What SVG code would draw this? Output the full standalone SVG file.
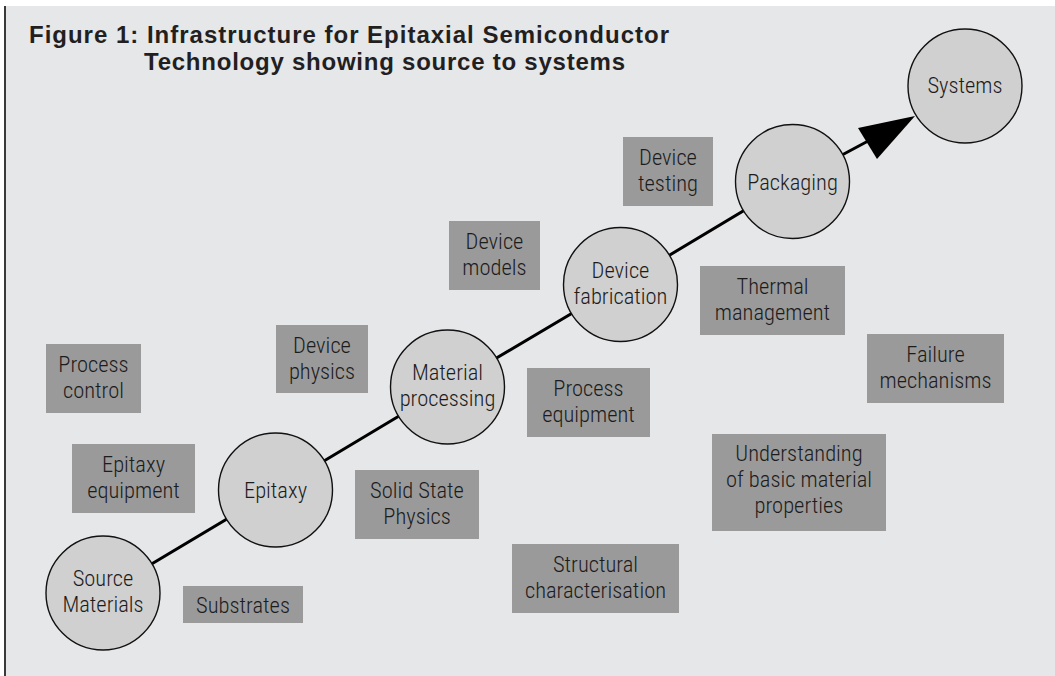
<svg xmlns="http://www.w3.org/2000/svg" width="1055" height="676" viewBox="0 0 1055 676">
<style>
.bg{fill:#e6e7e9}
.box{fill:#9a9a9a}
.node{fill:#d0d0d0;stroke:#111;stroke-width:1.4}
.t{font-family:"Liberation Sans Narrow","Arial Narrow","Roboto Condensed","DejaVu Sans Condensed","Liberation Sans",sans-serif;font-stretch:condensed;font-weight:300;font-size:22.5px;fill:#1c1c1c;text-anchor:middle}
.title{font-family:"Liberation Sans",Arial,sans-serif;font-weight:700;font-size:24px;fill:#231f20}
.conn{stroke:#000;stroke-width:3;fill:none}
</style>
<rect width="1055" height="676" fill="#ffffff"/>
<rect class="bg" x="5" y="6" width="1050" height="670"/>
<line x1="5" y1="6" x2="5" y2="676" stroke="#3a3a3a" stroke-width="2"/>
<g id="title">
<text class="title" x="29" y="43" textLength="640">Figure 1: Infrastructure for Epitaxial Semiconductor</text>
<text class="title" x="144" y="70" textLength="481">Technology showing source to systems</text>
</g>
<g id="connectors">
<polyline class="conn" points="103,593 275.5,490 447.5,387 620.5,284.5 792.5,181.5 870,140"/>
<polygon points="915,116 858,128 877,159" fill="#000"/>
</g>
<g id="source-materials"><circle class="node" cx="103" cy="593" r="57"/><text class="t" x="103" y="586">Source</text><text class="t" x="103" y="612">Materials</text></g>
<g id="epitaxy"><circle class="node" cx="275.5" cy="490" r="57"/><text class="t" x="275.5" y="498">Epitaxy</text></g>
<g id="material-processing"><circle class="node" cx="447.5" cy="387" r="57"/><text class="t" x="447.5" y="380">Material</text><text class="t" x="447.5" y="406">processing</text></g>
<g id="device-fabrication"><circle class="node" cx="620.5" cy="284.5" r="57"/><text class="t" x="620.5" y="277.5">Device</text><text class="t" x="620.5" y="303.5">fabrication</text></g>
<g id="packaging"><circle class="node" cx="792.5" cy="181.5" r="57"/><text class="t" x="792.5" y="189.5">Packaging</text></g>
<g id="systems"><circle class="node" cx="965" cy="86" r="57"/><text class="t" x="965" y="93">Systems</text></g>
<g id="process-control"><rect class="box" x="46" y="344" width="95" height="69"/><text class="t" x="93.5" y="372">Process</text><text class="t" x="93.5" y="398">control</text></g>
<g id="epitaxy-equipment"><rect class="box" x="72" y="444" width="123" height="69"/><text class="t" x="133.5" y="472">Epitaxy</text><text class="t" x="133.5" y="498">equipment</text></g>
<g id="substrates"><rect class="box" x="183" y="586" width="120" height="37"/><text class="t" x="243" y="613">Substrates</text></g>
<g id="device-physics"><rect class="box" x="276" y="325" width="92" height="68"/><text class="t" x="322" y="353">Device</text><text class="t" x="322" y="379">physics</text></g>
<g id="solid-state-physics"><rect class="box" x="355" y="470" width="124" height="69"/><text class="t" x="417" y="498">Solid State</text><text class="t" x="417" y="524">Physics</text></g>
<g id="device-models"><rect class="box" x="449" y="221" width="91" height="69"/><text class="t" x="494.5" y="249">Device</text><text class="t" x="494.5" y="275">models</text></g>
<g id="process-equipment"><rect class="box" x="527" y="368" width="123" height="69"/><text class="t" x="588.5" y="396">Process</text><text class="t" x="588.5" y="422">equipment</text></g>
<g id="structural-characterisation"><rect class="box" x="512" y="544" width="167" height="69"/><text class="t" x="595.5" y="572">Structural</text><text class="t" x="595.5" y="598">characterisation</text></g>
<g id="device-testing"><rect class="box" x="623" y="137" width="90" height="69"/><text class="t" x="668" y="165">Device</text><text class="t" x="668" y="191">testing</text></g>
<g id="thermal-management"><rect class="box" x="700" y="266" width="145" height="69"/><text class="t" x="772.5" y="294">Thermal</text><text class="t" x="772.5" y="320">management</text></g>
<g id="failure-mechanisms"><rect class="box" x="867" y="334" width="137" height="69"/><text class="t" x="935.5" y="362">Failure</text><text class="t" x="935.5" y="388">mechanisms</text></g>
<g id="understanding"><rect class="box" x="712" y="434" width="174" height="97"/><text class="t" x="799" y="461">Understanding</text><text class="t" x="799" y="487">of basic material</text><text class="t" x="799" y="513">properties</text></g>
</svg>
